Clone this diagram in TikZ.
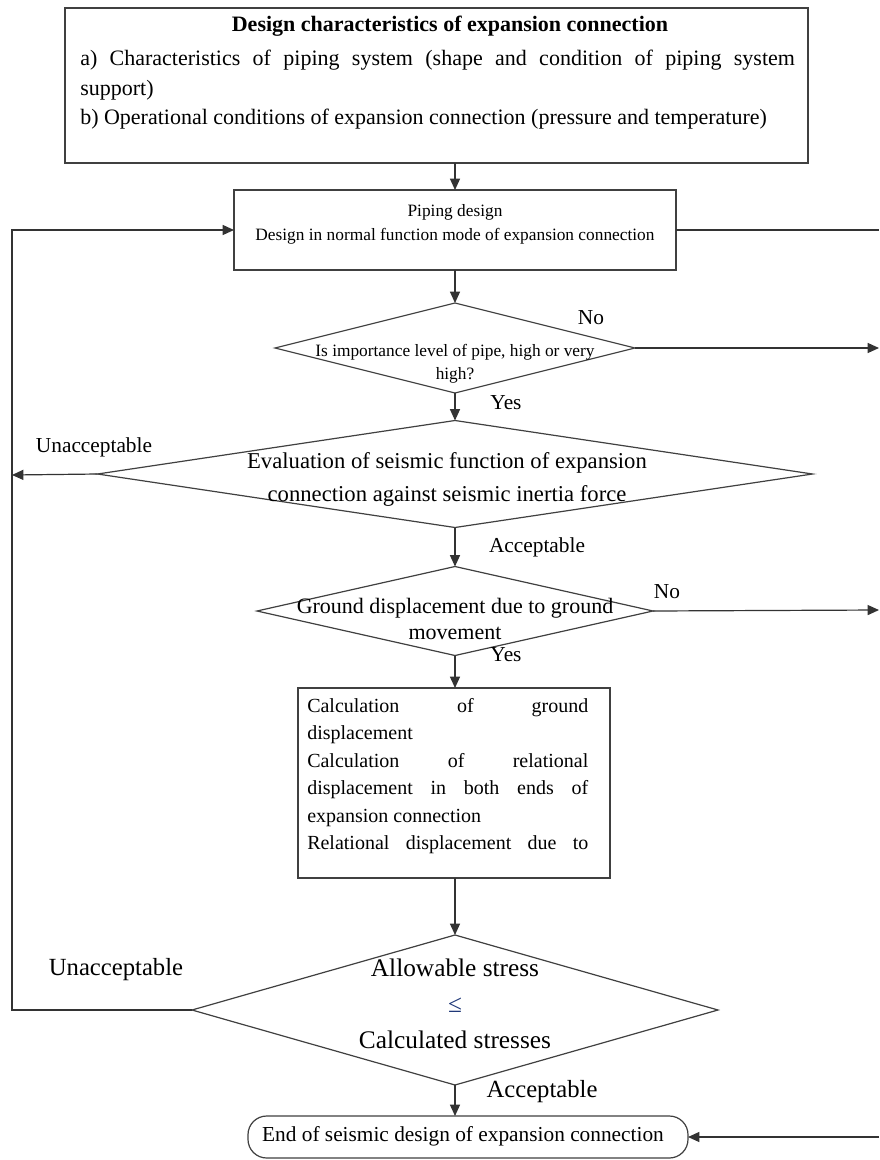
\documentclass[tikz,border=0pt]{standalone}
\usepackage{fontspec}
\setmainfont{Liberation Serif}
\usetikzlibrary{shapes.geometric,arrows.meta,calc}
\definecolor{leq}{RGB}{31,56,120}
\tikzset{
 ln/.style={draw=black!80, line width=0.9pt},
 arr/.style={ln, -{Triangle[length=8.5pt,width=7.5pt]}},
 boxst/.style={draw=black!75, line width=0.9pt, rectangle, inner sep=0pt, outer sep=0pt},
 dia/.style={draw=black!75, line width=0.9pt, shape=diamond, inner sep=0pt, outer sep=0pt},
 lbl/.style={font=\fontsize{16}{18}\selectfont, inner sep=0pt},
 biglbl/.style={font=\fontsize{18.5}{20}\selectfont, inner sep=0pt},
 txt/.style={inner sep=0pt, align=center},
}
\begin{document}
\begin{tikzpicture}[x=0.75pt,y=-0.75pt]
\useasboundingbox (0,0) rectangle (879,1160);
\fill[white] (0,0) rectangle (879,1160);

% top box
\node[boxst, line width=1.2pt, minimum width=557.25pt, minimum height=116.25pt] (top) at (436.5,85.5) {};
\node[txt, font=\bfseries\fontsize{16.5}{20}\selectfont] (ttl) at (450,26) {Design characteristics of expansion connection};
\node[inner sep=0pt, anchor=north west, text width=536pt, align=justify, font=\fontsize{16.5}{22}\selectfont] (tbody) at (80,50) {a) Characteristics of piping system (shape and condition of piping system\linebreak support)\par b) Operational conditions of expansion connection (pressure and temperature)};

% piping design box
\node[boxst, minimum width=331.5pt, minimum height=60pt] (pipe) at (455,230) {};
\node[txt, font=\fontsize{13}{18}\selectfont] (pipetxt) at (455,224) {Piping design\\Design in normal function mode of expansion connection};

% decision 1
\node[dia, minimum width=270pt, minimum height=67.5pt] (d1) at (455,348) {};
\node[txt, font=\fontsize{13}{17.25}\selectfont] (d1txt) at (455,364) {Is importance level of pipe, high or very\\high?};

% decision 2
\node[dia, minimum width=536.25pt, minimum height=80.25pt] (d2) at (455,474) {};
\node[txt, font=\fontsize{17}{24.75}\selectfont] (d2txt) at (447,479.5) {Evaluation of seismic function of expansion\\connection against seismic inertia force};

% decision 3
\node[dia, minimum width=297pt, minimum height=66.75pt] (d3) at (455,611) {};
\node[txt, font=\fontsize{16.5}{19.5}\selectfont] (d3txt) at (455,619) {Ground displacement due to ground\\movement};

% calculation box
\node[boxst, minimum width=234pt, minimum height=142.5pt] (calc) at (454,783) {};
\node[inner sep=0pt, anchor=north west, text width=210.75pt, align=justify, font=\fontsize{15}{20.6}\selectfont] (calctxt) at (307,698) {Calculation of ground\linebreak displacement\par Calculation of relational\linebreak displacement in both ends of\linebreak expansion connection\par Relational\hfill displacement\hfill due\hfill to};

% decision 4
\node[dia, minimum width=394.5pt, minimum height=112.5pt] (d4) at (455,1010) {};
\node[txt, font=\fontsize{19}{27}\selectfont] (d4txt) at (455,1004) {Allowable stress\\{\color{leq}≤}\\Calculated stresses};

% end terminal
\node[boxst, rounded corners=14pt, minimum width=330pt, minimum height=31.5pt] (end) at (468,1137) {};
\node[txt, font=\fontsize{16}{18}\selectfont] (endtxt) at (463,1136) {End of seismic design of expansion connection};

% free ends
\coordinate (rt) at (879,230);
\coordinate (r1) at (879,348);
\coordinate (r2) at (879,610);
\coordinate (rb) at (879,1137);
\coordinate (l1) at (12,475);
\coordinate (lb) at (12,1010);

% connectors
\draw[arr] (top.south -| pipe.north) -- (pipe.north);
\draw[arr] (pipe.south) -- (d1.north);
\draw[arr] (d1.south) -- (d2.north);
\draw[arr] (d2.south) -- (d3.north);
\draw[arr] (d3.south) -- (d3.south |- calc.north);
\draw[arr] (d3.south |- calc.south) -- (d4.north);
\draw[arr] (d4.south) -- (d4.south |- end.north);
\draw[ln] (pipe.east) -- (rt);
\draw[arr] (d1.east) -- (r1);
\draw[arr] (d3.east) -- (r2);
\draw[arr] (rb) -- (end.east);
\draw[arr] (d2.west) -- (l1);
\draw[arr] (d4.west) -- (lb) |- (pipe.west);

% labels
\node[lbl] (no1) at (591,318) {No};
\node[lbl] (yes1) at (506,403) {Yes};
\node[lbl] (un1) at (94,447) {Unacceptable};
\node[lbl] (ac1) at (537,547) {Acceptable};
\node[lbl] (no2) at (667,592) {No};
\node[lbl] (yes2) at (506,655) {Yes};
\node[biglbl] (un2) at (116,970) {Unacceptable};
\node[biglbl] (ac2) at (542,1092) {Acceptable};
\end{tikzpicture}
\end{document}
